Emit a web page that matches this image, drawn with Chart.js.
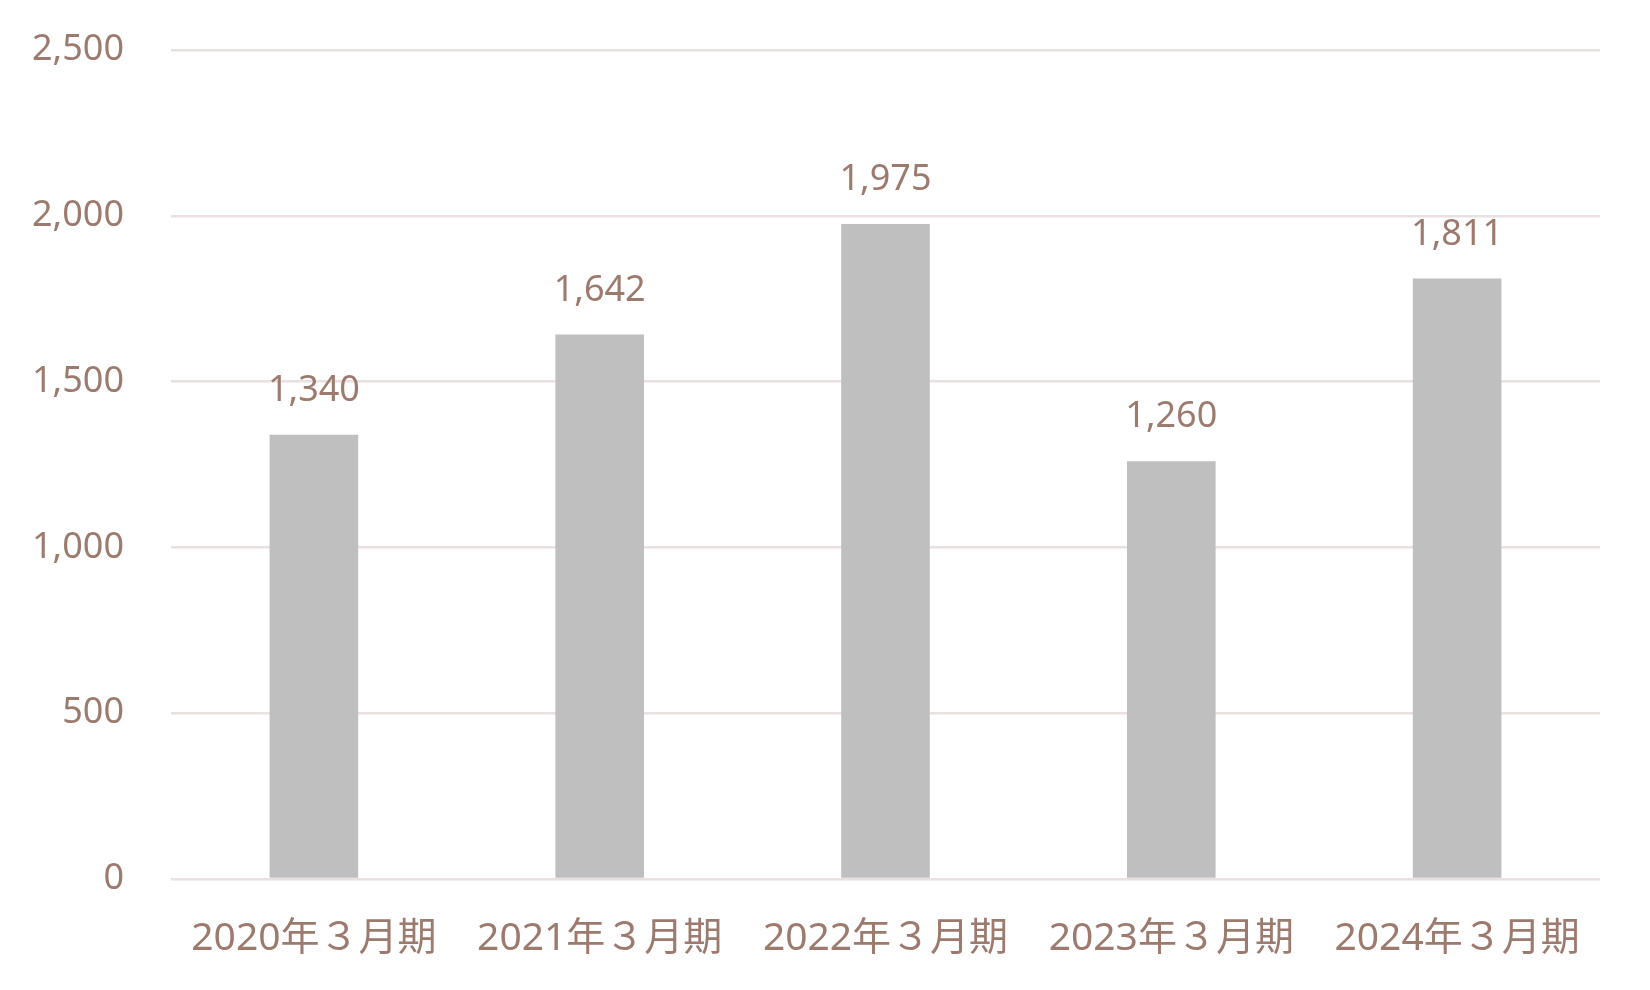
<!DOCTYPE html>
<html lang="ja">
<head>
<meta charset="utf-8">
<script src="https://cdn.jsdelivr.net/npm/chart.js@4/dist/chart.umd.min.js"></script>
<style>
  html, body { margin: 0; padding: 0; background: #fff; }
  #wrap { width: 1650px; height: 990px; }
</style>
</head>
<body>
<div id="wrap"><canvas id="chart"></canvas></div>
<script>
// データ
const categories = ['2020年３月期', '2021年３月期', '2022年３月期', '2023年３月期', '2024年３月期'];
const values = [1340, 1642, 1975, 1260, 1811];
const yTicks = [0, 500, 1000, 1500, 2000, 2500];

const textColor = '#9c7a6d';
const gridColor = '#eae0df';
const fontFamily = '"Noto Sans", "Noto Sans CJK JP", sans-serif';

// 棒の上に数値を表示
const valueLabels = {
    id: 'valueLabels',
    afterDatasetsDraw(chart) {
        const ctx = chart.ctx;
        const meta = chart.getDatasetMeta(0);
        ctx.save();
        ctx.fillStyle = textColor;
        ctx.font = '36px ' + fontFamily;
        ctx.textAlign = 'center';
        ctx.textBaseline = 'middle';
        meta.data.forEach((bar, i) => {
            ctx.fillText(values[i].toLocaleString('en-US'), bar.x, bar.y - 44);
        });
        ctx.restore();
    }
};

new Chart(document.getElementById('chart'), {
    type: 'bar',
    data: {
        labels: categories,
        datasets: [{
            data: values,
            backgroundColor: '#bfbfbf',
            categoryPercentage: 1,
            barPercentage: 0.31
        }]
    },
    options: {
        responsive: true,
        maintainAspectRatio: false,
        animation: false,
        layout: { padding: { left: 31, right: 50, top: 50, bottom: 0 } },
        plugins: {
            legend: { display: false },
            tooltip: { enabled: false }
        },
        scales: {
            x: {
                grid: { display: false },
                border: { display: false },
                afterFit: (scale) => { scale.height = 111; },
                ticks: {
                    color: textColor,
                    padding: 28,
                    minRotation: 0,
                    maxRotation: 0,
                    autoSkip: false,
                    font: { family: fontFamily, size: 39 }
                }
            },
            y: {
                min: 0,
                max: 2500,
                afterBuildTicks: (scale) => { scale.ticks = yTicks.map(v => ({ value: v })); },
                afterFit: (scale) => {
                    scale.width = 140;
                    scale.paddingTop = 0;
                    scale.paddingBottom = 0;
                },
                grid: { color: gridColor, lineWidth: 2.5, drawTicks: false },
                border: { display: false },
                ticks: {
                    color: textColor,
                    padding: 47,
                    font: { family: fontFamily, size: 36 },
                    callback: (v) => v.toLocaleString('en-US')
                }
            }
        }
    },
    plugins: [valueLabels]
});
</script>
</body>
</html>
